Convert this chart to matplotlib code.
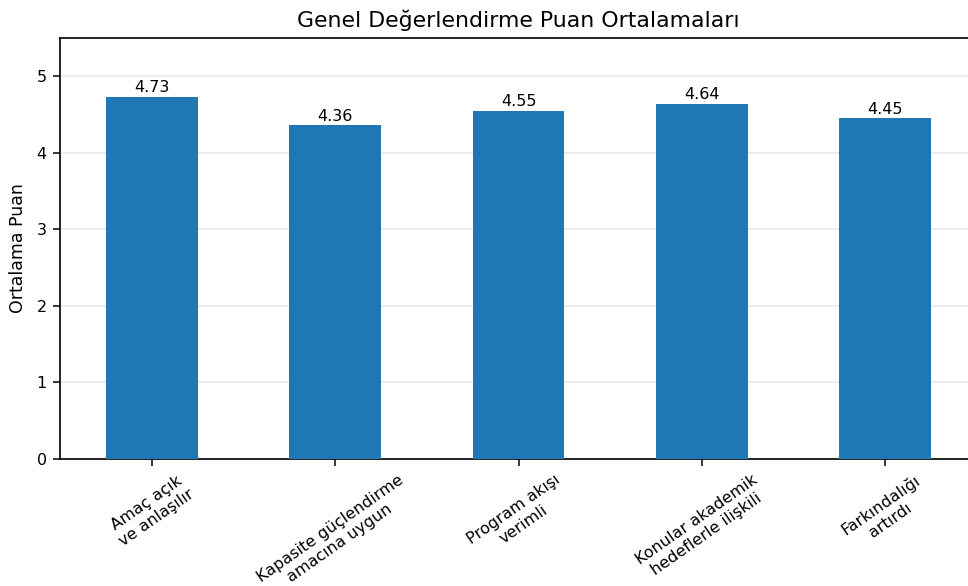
import matplotlib
matplotlib.use("Agg")
from matplotlib import pyplot as plt
import numpy as np

kategoriler = ["Amaç açık\nve anlaşılır",
               "Kapasite güçlendirme\namacına uygun",
               "Program akışı\nverimli",
               "Konular akademik\nhedeflerle ilişkili",
               "Farkındalığı\nartırdı"]
ortalamalar = [4.73, 4.36, 4.55, 4.64, 4.45]

fig = plt.figure(figsize=(9.68, 5.86), dpi=100)
ax = fig.add_axes([60 / 968, 127 / 586, 917 / 968, 421 / 586])

x = np.arange(len(kategoriler))
bars = ax.bar(x, ortalamalar, width=0.5, color="#1f77b4", zorder=3)
for b, v in zip(bars, ortalamalar):
    ax.text(b.get_x() + b.get_width() / 2, v + 0.02, "%.2f" % v,
            ha="center", va="bottom", fontsize=11.5)

ax.set_xlim(-0.5, 4.5)
ax.set_ylim(0, 5.5)
ax.set_xticks(x)
ax.set_xticklabels(kategoriler, rotation=35, ha="center", fontsize=11.5)
ax.tick_params(axis="both", labelsize=11.5, length=5, width=1.1, pad=4.5)
ax.set_ylabel("Ortalama Puan", fontsize=12.5, labelpad=7)
ax.set_title("Genel Değerlendirme Puan Ortalamaları", fontsize=15.8, pad=8)
ax.grid(axis="y", alpha=0.3, linewidth=1.1, zorder=0)
for s in ["left", "bottom", "top"]:
    ax.spines[s].set_linewidth(1.2)
ax.spines["right"].set_visible(False)

fig.savefig("out.png", dpi=100)
